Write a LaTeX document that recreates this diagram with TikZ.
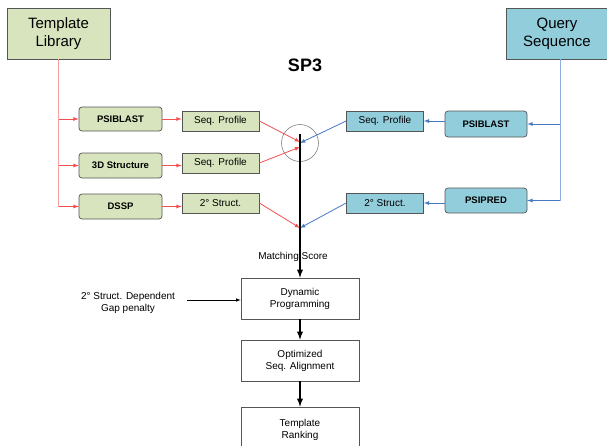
\documentclass[tikz,border=0pt]{standalone}
\usepackage{fontspec}
\setmainfont{Liberation Sans}
\usepackage{tikz}

\definecolor{verde}{RGB}{215,228,189}
\definecolor{turquesa}{RGB}{146,205,220}
\definecolor{rojo}{RGB}{245,80,80}
\definecolor{rosa}{RGB}{246,160,160}
\definecolor{azul}{RGB}{70,120,195}
\definecolor{celeste}{RGB}{140,175,225}
\definecolor{borde}{RGB}{85,85,85}

\begin{document}
\begin{tikzpicture}[x=1pt, y=-1pt, >=latex,
        every node/.style={font=\fontsize{10}{12}\selectfont, align=center, inner sep=0pt},
        bigbox/.style={draw=borde, line width=0.8pt, minimum height=51pt, font=\fontsize{15}{18}\selectfont},
        toolbox/.style={draw=borde, line width=0.7pt, rounded corners=3pt, minimum width=83pt, minimum height=25pt, font=\fontsize{9.5}{11}\selectfont\bfseries},
        outbox/.style={draw=borde, line width=0.7pt, minimum width=77pt, minimum height=20pt},
        stepbox/.style={draw=borde, line width=0.6pt, minimum width=118pt, minimum height=41pt},
        redarrow/.style={->, rojo, line width=0.8pt},
        bluearrow/.style={->, azul, line width=0.8pt},
        mainarrow/.style={->, black, line width=1.8pt}]
        % Marco
        \useasboundingbox (0,0) rectangle (607,445);
        \clip (0,0) rectangle (607,445);
        
        % Cajas de entrada
        \node[bigbox, fill=verde, minimum width=103pt] (lib) at (58.5,33.5) {Template\\Library};
        \node[bigbox, fill=turquesa, minimum width=102pt] (qry) at (557,33.5) {Query\\Sequence};
        \node[font=\fontsize{18}{20}\selectfont\bfseries] (title) at (305,65) {SP3};
        
        % Columna izquierda
        \node[toolbox, fill=verde, minimum height=24pt] (psiL) at (120.5,119) {PSIBLAST};
        \node[toolbox, fill=verde] (strL) at (120.5,165.5) {3D Structure};
        \node[toolbox, fill=verde] (dssp) at (120.5,206.5) {DSSP};
        \node[outbox, fill=verde] (seqL1) at (220.5,121) {Seq. Profile};
        \node[outbox, fill=verde] (seqL2) at (220.5,163) {Seq. Profile};
        \node[outbox, fill=verde] (ssL) at (220.5,203) {2° Struct.};
        
        % Columna derecha
        \node[toolbox, fill=turquesa, minimum width=82pt, minimum height=26pt] (psiR) at (486,124) {PSIBLAST};
        \node[toolbox, fill=turquesa, minimum width=82pt] (psipred) at (486,200.5) {PSIPRED};
        \node[outbox, fill=turquesa] (seqR) at (385,121) {Seq. Profile};
        \node[outbox, fill=turquesa] (ssR) at (385,203) {2° Struct.};
        
        % Puntos de encuentro
        \coordinate (top) at (300,134);
        \coordinate (m1) at (300,142);
        \coordinate (m2) at (300,147);
        \coordinate (m3) at (300,228);
        \node[circle, draw=gray, line width=0.6pt, minimum size=37pt] (circ) at (300,143) {};
        
        % Pasos finales
        \node (score) at (293,257) {Matching Score};
        \node[stepbox] (dp) at (300,298.5) {Dynamic\\Programming};
        \node[stepbox] (opt) at (300,360.5) {Optimized\\Seq. Alignment};
        \node[stepbox, minimum height=45pt] (rank) at (300,429.5) {Template\\Ranking};
        \node (gap) at (128,303) {2° Struct. Dependent\\Gap penalty};
        \coordinate (gapstart) at (187,300);
        
        % Ramas rojas
        \draw[rosa, line width=0.8pt] (lib.south) |- (dssp.west);
        \draw[redarrow] (lib.south |- psiL.west) -- (psiL.west);
        \draw[redarrow] (lib.south |- strL.west) -- (strL.west);
        \draw[redarrow] (lib.south |- dssp.west) -- (dssp.west);
        \draw[redarrow] (psiL.east) -- (psiL.east -| seqL1.west);
        \draw[redarrow] (strL.east) -- (strL.east -| seqL2.west);
        \draw[redarrow] (dssp.east) -- (dssp.east -| ssL.west);
        \draw[redarrow] (seqL1.east) -- (m1);
        \draw[redarrow] (seqL2.east) -- (m2);
        \draw[redarrow] (ssL.east) -- (m3);
        
        % Ramas azules
        \draw[celeste, line width=0.8pt] ([xshift=3pt]qry.south) |- (psipred.east);
        \draw[bluearrow] ([xshift=3pt]qry.south |- psiR.east) -- (psiR.east);
        \draw[bluearrow] ([xshift=3pt]qry.south |- psipred.east) -- (psipred.east);
        \draw[bluearrow] (psiR.west |- seqR.east) -- (seqR.east);
        \draw[bluearrow] (psipred.west |- ssR.east) -- (ssR.east);
        \draw[bluearrow] (seqR.west) -- (circ.center);
        \draw[bluearrow] (ssR.west) -- (m3);
        
        % Flujo principal
        \draw[mainarrow] (top) -- (dp.north);
        \draw[mainarrow] (dp.south) -- (opt.north);
        \draw[mainarrow] (opt.south) -- (rank.north);
        \draw[->, line width=0.6pt] (gapstart) -- (gapstart -| dp.west);
\end{tikzpicture}
\end{document}
